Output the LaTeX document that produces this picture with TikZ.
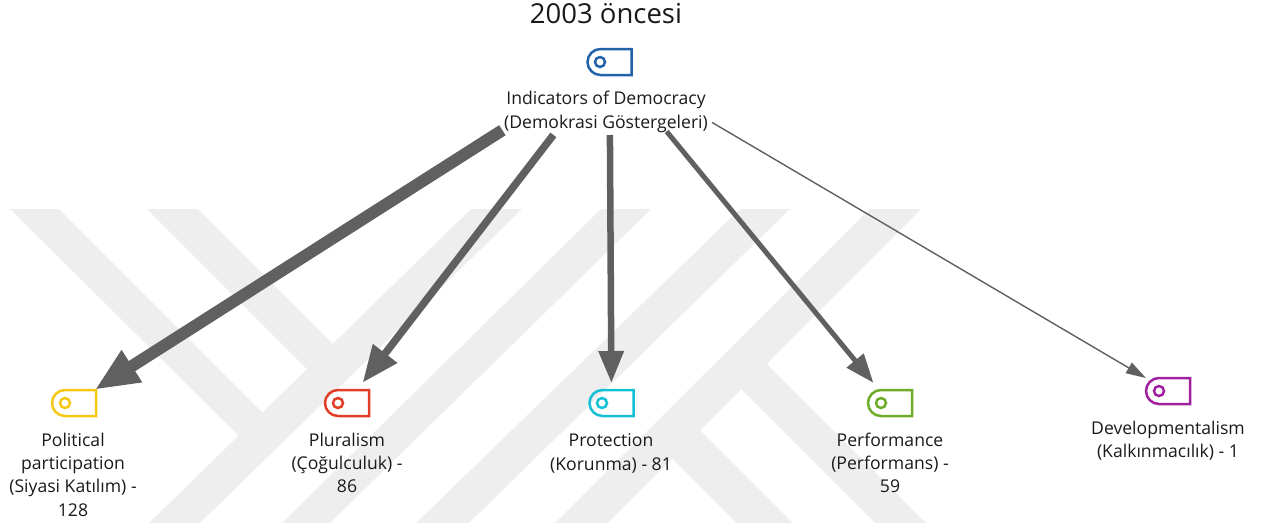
\documentclass[tikz,border=0pt]{standalone}
\usepackage{fontspec}
\setmainfont{Open Sans}
\usetikzlibrary{arrows.meta,shapes.misc,calc}
\definecolor{wm}{HTML}{EEEEEE}
\definecolor{edgegrey}{HTML}{606060}
\definecolor{cblue}{HTML}{2262A8}
\definecolor{cyellow}{HTML}{F5C816}
\definecolor{cred}{HTML}{E23D28}
\definecolor{ccyan}{HTML}{13C0D4}
\definecolor{cgreen}{HTML}{6FAC2A}
\definecolor{cpurple}{HTML}{A0209E}
\definecolor{txt}{HTML}{1A1A1A}
\tikzset{
  wmband/.style={fill=wm,draw=none},
  tagicon/.style={rounded rectangle,rounded rectangle east arc=none,draw=#1,line width=2.5pt,minimum width=44pt,minimum height=26pt,inner sep=0pt,outer sep=0pt},
  tagdot/.style={circle,draw=#1,line width=2.5pt,minimum size=10pt,inner sep=0pt,outer sep=0pt},
  lab/.style={align=center,inner sep=0pt,text=txt,font=\fontsize{17.6}{23.3}\selectfont},
  conn/.style={draw=edgegrey,fill=edgegrey}
}
\begin{document}
\begin{tikzpicture}[x=1pt,y=-1pt]
\useasboundingbox (0,0) rectangle (1272,523);
% watermark
\fill[wmband] (10,209)--(59,209)--(275,425)--(252,449)--cycle;
\fill[wmband] (147,209)--(198,209)--(345,356)--(320,382)--cycle;
\fill[wmband] (471,209)--(522,209)--(200,523)--(149,523)--cycle;
\fill[wmband] (601,209)--(651,209)--(330,523)--(282,523)--cycle;
\fill[wmband] (740,209)--(790,209)--(469,523)--(416,523)--cycle;
\fill[wmband] (870,209)--(921,209)--(608,523)--(555,523)--cycle;
\fill[wmband] (745,342)--(926,523)--(875,523)--(725,373)--cycle;
\fill[wmband] (680,410)--(793,523)--(737,523)--(650,436)--cycle;
% title
\node[inner sep=0pt,text=txt,font=\fontsize{27.5}{30}\selectfont] (title) at (606,14) {2003 öncesi};
% icons
\node[tagicon=cblue] (root) at (609.5,62) {};
\node[tagdot=cblue] (rootdot) at (600,62) {};
\node[tagicon=cyellow] (pol) at (74,403) {};
\node[tagdot=cyellow] (poldot) at (65,403) {};
\node[tagicon=cred] (plu) at (347,403) {};
\node[tagdot=cred] (pludot) at (338,403) {};
\node[tagicon=ccyan] (pro) at (611.5,403) {};
\node[tagdot=ccyan] (prodot) at (602,403) {};
\node[tagicon=cgreen] (per) at (890,403) {};
\node[tagdot=cgreen] (perdot) at (881,403) {};
\node[tagicon=cpurple] (dev) at (1168,391) {};
\node[tagdot=cpurple] (devdot) at (1159,391) {};
% labels
\node[lab] (rootlab) at (606,112) {Indicators of Democracy\\(Demokrasi Göstergeleri)};
\node[lab] (pollab) at (73,474.5) {Political\\participation\\(Siyasi Katılım) -\\128};
\node[lab] (plulab) at (347,463) {Pluralism\\(Çoğulculuk) -\\86};
\node[lab] (prolab) at (611,453.5) {Protection\\(Korunma) - 81};
\node[lab] (perlab) at (890,463) {Performance\\(Performans) -\\59};
\node[lab] (devlab) at (1168,440.5) {Developmentalism\\(Kalkınmacılık) - 1};
% connectors
\draw[conn,line width=12pt,-{Triangle[length=44pt,width=35pt]},shorten <=127pt,shorten >=24.7pt] (root.center) -- (pol.center);
\draw[conn,line width=7.5pt,-{Triangle[length=37pt,width=29pt]},shorten <=92pt,shorten >=25.6pt] (root.center) -- (plu.center);
\draw[conn,line width=6.5pt,-{Triangle[length=32pt,width=24pt]},shorten <=73pt,shorten >=20pt] (root.center) -- (pro.center);
\draw[conn,line width=5pt,-{Triangle[length=29pt,width=21pt]},shorten <=90pt,shorten >=26pt] (root.center) -- (per.center);
\draw[conn,line width=1.4pt,-{Triangle[length=20pt,width=12pt]},shorten <=119pt,shorten >=25.6pt] (root.center) -- (dev.center);
\end{tikzpicture}
\end{document}
